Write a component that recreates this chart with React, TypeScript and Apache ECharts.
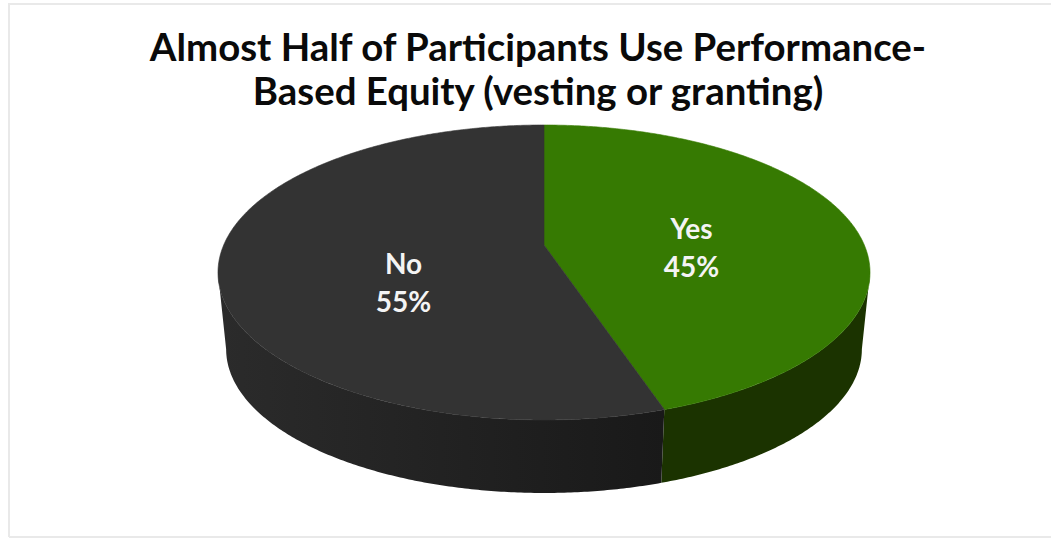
import React, { useEffect, useRef } from "react";
import * as echarts from "echarts";

const categories = ["Yes", "No"];
const shares = [45, 55];
const titleLines = ["Almost Half of Participants Use Performance-", "Based Equity (vesting or granting)"];

// Colours of each slice: top face, then the rim's light and dark ends.
const topColors = ["#367A02", "#333333"];
const rimColors = [["#1B3300", "#1B3300"], ["#2B2B2B", "#191919"]];

// Perspective of the disc: a unit circle is projected onto the page.
const CX = 544;
const APEX_Y = 245;
const RADIUS = 320.3;
const TILT = 0.1864;
const DEPTH_K = -96.7;
// The underside is the same disc, slightly smaller and further down.
const UNDER_SCALE = 0.975;
const UNDER_SHIFT = 83.5;
// Angle at which the disc's outline is widest, where the rim starts being visible.
const SILHOUETTE = Math.PI / 2 + Math.asin(TILT);

const labelCenters = [[691.5, 247], [403.5, 282]];

function projectTop(a: number, r = 1): [number, number] {
  const u = r * Math.sin(a);
  const v = r * Math.cos(a);
  const d = 1 + TILT * v;
  return [CX + (RADIUS * u) / d, (DEPTH_K * v + APEX_Y) / d];
}

function projectUnder(a: number): [number, number] {
  const [x, y] = projectTop(a);
  return [CX + (x - CX) * UNDER_SCALE, y * UNDER_SCALE + UNDER_SHIFT];
}

function arc(from: number, to: number, project: (a: number) => [number, number]) {
  const steps = Math.max(2, Math.ceil(Math.abs(to - from) / (Math.PI / 360)));
  const pts: [number, number][] = [];
  for (let i = 0; i <= steps; i++) pts.push(project(from + ((to - from) * i) / steps));
  return pts;
}

export default function App() {
  const ref = useRef<HTMLDivElement>(null);

  useEffect(() => {
    const chart = echarts.init(ref.current!, undefined, { renderer: "svg" });
    const total = shares.reduce((s, v) => s + v, 0);

    chart.setOption({
      animation: false,
      backgroundColor: "#ffffff",
      title: {
        text: titleLines.join("\n"),
        left: 533,
        top: 19,
        textAlign: "center",
        textStyle: {
          fontFamily: "Lato",
          fontWeight: 700,
          fontSize: 38.4,
          lineHeight: 44,
          color: "#0a0a0a",
        },
      },
      graphic: [
        {
          type: "polyline",
          silent: true,
          shape: { points: [[9, 537], [9, 4], [1051, 4]] },
          style: { fill: "none", stroke: "#e9e9e9", lineWidth: 2 },
        },
        {
          type: "line",
          silent: true,
          shape: { x1: 9, y1: 537, x2: 1051, y2: 537 },
          style: { stroke: "#e9e9e9", lineWidth: 2 },
        },
      ],
      series: [
        {
          type: "custom",
          coordinateSystem: "none",
          data: categories.map((name, i) => ({ name, value: [i, shares[i]] })),
          renderItem: (params: any, api: any) => {
            const i = params.dataIndex;
            const before = shares.slice(0, i).reduce((s, v) => s + v, 0);
            const start = (before / total) * 2 * Math.PI;
            const end = ((before + api.value(1)) / total) * 2 * Math.PI;

            const children: any[] = [];
            const rimFrom = Math.max(start, SILHOUETTE);
            const rimTo = Math.min(end, 2 * Math.PI - SILHOUETTE);
            if (rimTo > rimFrom) {
              children.push({
                type: "polygon",
                shape: { points: [...arc(rimFrom, rimTo, projectTop), ...arc(rimTo, rimFrom, projectUnder)] },
                style: {
                  fill: new echarts.graphic.LinearGradient(1, 0, 0, 0, [
                    { offset: 0, color: rimColors[i][1] },
                    { offset: 1, color: rimColors[i][0] },
                  ]),
                },
              });
            }
            children.push({
              type: "polygon",
              shape: { points: [[CX, APEX_Y], ...arc(start, end, projectTop)] },
              style: { fill: topColors[i], stroke: topColors[i], lineWidth: 0.6 },
            });
            children.push({
              type: "text",
              x: labelCenters[i][0],
              y: labelCenters[i][1],
              style: {
                text: `${categories[i]}\n${api.value(1)}%`,
                fontFamily: "Lato",
                fontWeight: 700,
                fontSize: 28,
                lineHeight: 38,
                align: "center",
                verticalAlign: "middle",
                fill: "#f4f4f4",
              },
            });
            return { type: "group", children };
          },
        },
      ],
    });

    return () => chart.dispose();
  }, []);

  return <div ref={ref} style={{ position: "absolute", left: 0, top: 0, width: 1051, height: 538 }} />;
}
